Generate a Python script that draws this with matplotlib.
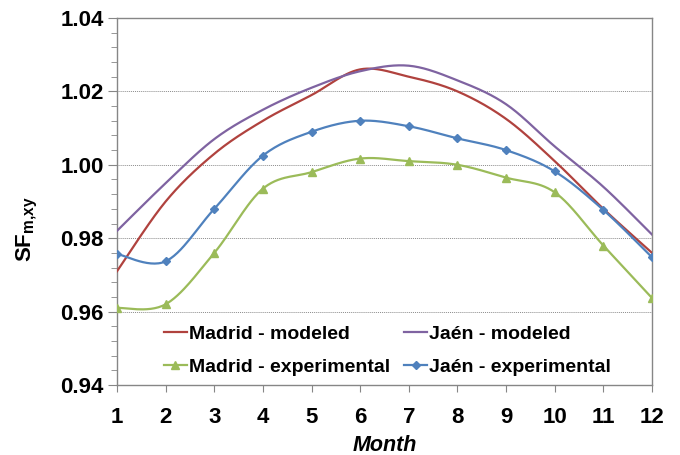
import numpy as np
import matplotlib
matplotlib.use("Agg")
import matplotlib.pyplot as plt
from matplotlib.ticker import MultipleLocator, FixedLocator

plt.rcParams['font.family'] = ['Liberation Sans', 'DejaVu Sans']
plt.rcParams['mathtext.fontset'] = 'custom'
plt.rcParams['mathtext.rm'] = 'Liberation Sans:bold'
plt.rcParams['mathtext.bf'] = 'Liberation Sans:bold'
plt.rcParams['mathtext.it'] = 'Liberation Sans:bold'

months = [1, 2, 3, 4, 5, 6, 7, 8, 9, 10, 11, 12]
madrid_modeled = [0.971, 0.990, 1.003, 1.012, 1.019, 1.026, 1.024, 1.020, 1.0125, 1.001, 0.988, 0.976]
jaen_modeled = [0.982, 0.995, 1.007, 1.015, 1.021, 1.0255, 1.027, 1.023, 1.0165, 1.005, 0.994, 0.981]
madrid_experimental = [0.961, 0.962, 0.976, 0.9935, 0.998, 1.0017, 1.001, 1.000, 0.9965, 0.9925, 0.978, 0.9637]
jaen_experimental = [0.9757, 0.9737, 0.988, 1.0025, 1.009, 1.012, 1.0105, 1.0072, 1.004, 0.9982, 0.9877, 0.9748]


def smooth(x, y, n=30):
    """Catmull-Rom style smoothing between consecutive points."""
    x = np.asarray(x, float)
    y = np.asarray(y, float)
    px = np.concatenate([[x[0]], x, [x[-1]]])
    py = np.concatenate([[y[0]], y, [y[-1]]])
    xs, ys = [], []
    t = np.linspace(0, 1, n)
    for i in range(1, len(px) - 2):
        p0, p1, p2, p3 = (np.array([px[j], py[j]]) for j in (i - 1, i, i + 1, i + 2))
        c1 = p1 + (p2 - p0) / 6.0
        c2 = p2 - (p3 - p1) / 6.0
        b = ((1 - t) ** 3)[:, None] * p1 + (3 * (1 - t) ** 2 * t)[:, None] * c1 \
            + (3 * (1 - t) * t ** 2)[:, None] * c2 + (t ** 3)[:, None] * p2
        xs.append(b[:, 0])
        ys.append(b[:, 1])
    return np.concatenate(xs), np.concatenate(ys)


fig = plt.figure(figsize=(6.8, 4.55), dpi=100)
ax = fig.add_axes([117 / 680, 70 / 455, 535 / 680, 367 / 455])

RED = '#B0423E'
PURPLE = '#7F63A1'
GREEN = '#9BBB59'
BLUE = '#4F81BD'

lw = 1.6
sx, sy = smooth(months, madrid_modeled)
ax.plot(sx, sy, color=RED, lw=lw, zorder=3)
h_mm, = ax.plot([], [], color=RED, lw=lw)

sx, sy = smooth(months, jaen_modeled)
ax.plot(sx, sy, color=PURPLE, lw=lw, zorder=3)
h_jm, = ax.plot([], [], color=PURPLE, lw=lw)

sx, sy = smooth(months, madrid_experimental)
ax.plot(sx, sy, color=GREEN, lw=lw, zorder=3)
ax.plot(months, madrid_experimental, ls='none', marker='^', ms=6, color=GREEN, zorder=4)
h_me, = ax.plot([], [], color=GREEN, lw=lw, marker='^', ms=6)

sx, sy = smooth(months, jaen_experimental)
ax.plot(sx, sy, color=BLUE, lw=lw, zorder=3)
ax.plot(months, jaen_experimental, ls='none', marker='D', ms=4.5, color=BLUE, zorder=4)
h_je, = ax.plot([], [], color=BLUE, lw=lw, marker='D', ms=4.5)

ax.set_xlim(1, 12)
ax.set_ylim(0.94, 1.04)
ax.xaxis.set_major_locator(FixedLocator(months))
ax.yaxis.set_major_locator(MultipleLocator(0.02))
ax.yaxis.set_minor_locator(MultipleLocator(0.004))
ax.set_yticklabels([f'{v:.2f}' for v in ax.get_yticks()])

ax.grid(axis='y', which='major', color='#8C8C8C', ls=(0, (1, 1)), lw=0.7)
for s in ax.spines.values():
    s.set_color('#868686')
    s.set_linewidth(1.0)

ax.tick_params(axis='both', which='both', direction='out', color='#868686')
ax.tick_params(axis='y', which='major', length=6.5, labelsize=16, pad=3)
ax.tick_params(axis='y', which='minor', length=4)
ax.tick_params(axis='x', which='major', length=5, labelsize=16, pad=11)
for lab in ax.get_xticklabels() + ax.get_yticklabels():
    lab.set_fontweight('bold')

ax.set_xlabel('Month', fontsize=15.5, fontweight='bold', style='italic', labelpad=5)
fig.text(27 / 680, 1 - 229 / 455, r'$\mathrm{SF}_{\mathrm{m{,}xy}}$', rotation=90,
         fontsize=16, ha='center', va='center')

leg = ax.legend([h_mm, h_me, h_jm, h_je],
                ['Madrid - modeled', 'Madrid - experimental', 'Jaén - modeled', 'Jaén - experimental'],
                ncol=2, frameon=False, loc='lower left', bbox_to_anchor=(0.073, 0.003),
                prop={'weight': 'bold', 'size': 14}, handlelength=1.2, handletextpad=0.1,
                columnspacing=0.7, labelspacing=0.8, borderaxespad=0)

fig.savefig('out.png', dpi=100)
